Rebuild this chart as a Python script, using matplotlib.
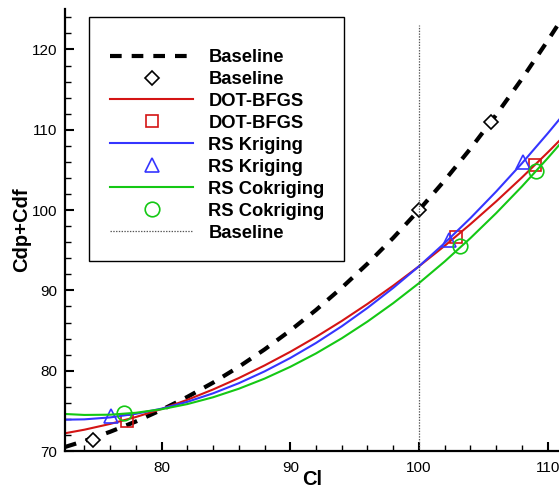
import matplotlib
matplotlib.use("Agg")
import matplotlib.pyplot as plt
from matplotlib.patches import Rectangle
from matplotlib.ticker import MultipleLocator

plt.rcParams['font.family'] = ['Liberation Sans', 'DejaVu Sans']
plt.rcParams['lines.scale_dashes'] = False

# ---- data ----
cl_curve = [72.5, 74, 76, 78, 80, 82, 84, 86, 88, 90, 92,
            94, 96, 98, 100, 102, 104, 106, 108, 110, 111]
baseline_curve = [70.50, 71.25, 72.39, 73.67, 75.12, 76.73, 78.51, 80.48,
                  82.64, 85.00, 87.56, 90.33, 93.32, 96.54, 100.00, 103.70,
                  107.65, 111.86, 116.34, 121.09, 123.57]
dot_bfgs_curve = [72.21, 72.65, 73.37, 74.23, 75.23, 76.37, 77.66, 79.08,
                  80.65, 82.35, 84.20, 86.19, 88.32, 90.59, 93.00, 95.55,
                  98.25, 101.08, 104.06, 107.17, 108.78]
kriging_curve = [73.90, 73.94, 74.18, 74.63, 75.27, 76.12, 77.18, 78.44,
                 79.91, 81.58, 83.45, 85.53, 87.82, 90.31, 93.00, 95.90,
                 99.00, 102.31, 105.82, 109.54, 111.47]
cokriging_curve = [74.61, 74.49, 74.52, 74.76, 75.20, 75.84, 76.69, 77.75,
                   79.01, 80.48, 82.15, 84.03, 86.12, 88.41, 90.90, 93.60,
                   96.51, 99.62, 102.94, 106.46, 108.30]

baseline_pts_x = [74.7, 100.0, 105.6]
baseline_pts_y = [71.4, 100.0, 111.0]
dot_bfgs_pts_x = [77.3, 102.9, 109.0]
dot_bfgs_pts_y = [73.7, 96.7, 105.6]
kriging_pts_x = [76.1, 102.3, 108.1]
kriging_pts_y = [74.3, 96.3, 106.0]
cokriging_pts_x = [77.1, 103.2, 109.1]
cokriging_pts_y = [74.75, 95.5, 104.85]

ref_line_x = [100.0, 100.0]
ref_line_y = [70.0, 123.0]

labels = ["Baseline", "Baseline", "DOT-BFGS", "DOT-BFGS", "RS Kriging",
          "RS Kriging", "RS Cokriging", "RS Cokriging", "Baseline"]
x_label = "Cl"
y_label = "Cdp+Cdf"
x_range = (72.46, 110.88)
y_range = (70, 125)

RED = '#d41414'
BLUE = '#3535ff'
GREEN = '#14c814'

W, H = 559, 490
fig = plt.figure(figsize=(W / 100, H / 100), dpi=100)
ax_left, ax_right, ax_top, ax_bottom = 64.5, 559, 9.3, 451.0
ax = fig.add_axes([ax_left / W, 1 - ax_bottom / H,
                   (ax_right - ax_left) / W, (ax_bottom - ax_top) / H])

h1, = ax.plot(cl_curve, baseline_curve, color='black', lw=3.0,
              linestyle=(0, (8.4, 7.2)), dash_capstyle='butt', label=labels[0])
h2, = ax.plot(baseline_pts_x, baseline_pts_y, linestyle='none', marker='D',
              ms=7.6, mfc='white', mec='black', mew=1.2, label=labels[1])
h3, = ax.plot(cl_curve, dot_bfgs_curve, color=RED, lw=1.5, label=labels[2])
h4, = ax.plot(dot_bfgs_pts_x, dot_bfgs_pts_y, linestyle='none', marker='s',
              ms=8.3, mfc='none', mec=RED, mew=1.2, label=labels[3])
h5, = ax.plot(cl_curve, kriging_curve, color=BLUE, lw=1.5, label=labels[4])
h6, = ax.plot(kriging_pts_x, kriging_pts_y, linestyle='none', marker='^',
              ms=10, mfc='none', mec=BLUE, mew=1.2, label=labels[5])
h7, = ax.plot(cl_curve, cokriging_curve, color=GREEN, lw=1.5, label=labels[6])
h8, = ax.plot(cokriging_pts_x, cokriging_pts_y, linestyle='none', marker='o',
              ms=10.5, mfc='none', mec=GREEN, mew=1.2, label=labels[7])
h9, = ax.plot(ref_line_x, ref_line_y, color='#555555', lw=0.9,
              linestyle=(0, (1, 1)), label=labels[8])

ax.set_xlim(*x_range)
ax.set_ylim(*y_range)
ax.xaxis.set_major_locator(MultipleLocator(10))
ax.xaxis.set_minor_locator(MultipleLocator(2))
ax.yaxis.set_major_locator(MultipleLocator(10))
ax.yaxis.set_minor_locator(MultipleLocator(2))

for s in ['top', 'right']:
    ax.spines[s].set_visible(False)
for s in ['left', 'bottom']:
    ax.spines[s].set_linewidth(1.6)
ax.tick_params(which='major', direction='in', length=6.5, width=1.5,
               labelsize=11)
ax.tick_params(which='minor', direction='in', length=4.2, width=1.0)
ax.tick_params(axis='x', which='major', pad=7.5)
ax.tick_params(axis='y', which='major', pad=5.0)

ax.set_xlabel(x_label, fontsize=14.5, fontweight='bold')
ax.set_ylabel(y_label, fontsize=14.5, fontweight='bold')
ax.xaxis.set_label_coords(0.5, -0.043)
ax.yaxis.set_label_coords(-0.068, 0.5)

fs = 13.2
leg = ax.legend(handles=[h1, h2, h3, h4, h5, h6, h7, h8, h9],
                loc='upper left',
                bbox_to_anchor=(110 / W, 1 - 49 / H),
                bbox_transform=fig.transFigure,
                frameon=False, borderpad=0, borderaxespad=0,
                handlelength=4.55, handletextpad=0.82, labelspacing=0.27,
                numpoints=1, prop={'size': fs, 'weight': 'bold'})

fig.patches.append(Rectangle((89.3 / W, 1 - 261.5 / H),
                             (344 - 89.3) / W, (261.5 - 16.7) / H,
                             transform=fig.transFigure, fill=False,
                             edgecolor='black', lw=1.0))

fig.savefig('out.png', dpi=100)
